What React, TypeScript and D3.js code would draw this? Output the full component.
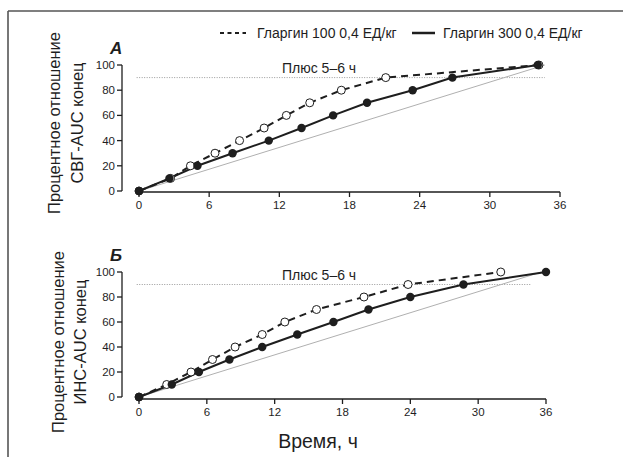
import React from 'react';
import * as d3 from 'd3';

// hours / percent values
const xTicks = [0, 6, 12, 18, 24, 30, 36];
const yTicks = [0, 20, 40, 60, 80, 100];
const plusLevel = 90;
const plusLabel = 'Плюс 5–6 ч';

const legendLabels = ['Гларгин 100 0,4 ЕД/кг', 'Гларгин 300 0,4 ЕД/кг'];

// Panel A: СВГ-AUC
const aG100Hours = [0, 2.7, 4.4, 6.5, 8.6, 10.7, 12.6, 14.6, 17.3, 21.1, 34.2];
const aG100Values = [0, 10, 20, 30, 40, 50, 60, 70, 80, 90, 100];
const aG300Hours = [0, 2.6, 5.0, 8.0, 11.1, 13.9, 16.6, 19.5, 23.4, 26.8, 34.1];
const aG300Values = [0, 10, 20, 30, 40, 50, 60, 70, 80, 90, 100];
const aRefEnd = [34.7, 100];

// Panel B: ИНС-AUC
const bG100Hours = [0, 2.45, 4.6, 6.5, 8.5, 10.9, 12.9, 15.7, 19.9, 23.8, 32.0];
const bG100Values = [0, 10, 20, 30, 40, 50, 60, 70, 80, 90, 100];
const bG300Hours = [0, 2.9, 5.3, 8.0, 10.9, 14.0, 17.2, 20.3, 24.0, 28.7, 36.0];
const bG300Values = [0, 10, 20, 30, 40, 50, 60, 70, 80, 90, 100];
const bRefEnd = [35.6, 100];

const FONT = '"Liberation Sans", Arial, sans-serif';
const INK = '#1e1e1e';

type Pt = [number, number];
const zip = (h: number[], v: number[]): Pt[] => h.map((x, i) => [x, v[i]]);

const panels = [
  {
    letter: 'А',
    yLabel: ['Процентное отношение', 'СВГ-AUC конец'],
    g100: zip(aG100Hours, aG100Values),
    g300: zip(aG300Hours, aG300Values),
    refEnd: aRefEnd,
    x0: 139, x1: 560, yTop: 65, yBot: 191, axisY: 192,
    labelCy: 123, labelX: [60, 83],
  },
  {
    letter: 'Б',
    yLabel: ['Процентное отношение', 'ИНС-AUC конец'],
    g100: zip(bG100Hours, bG100Values),
    g300: zip(bG300Hours, bG300Values),
    refEnd: bRefEnd,
    x0: 139, x1: 546, yTop: 272, yBot: 397, axisY: 399,
    labelCy: 342, labelX: [64, 86],
  },
];

const Panel = ({ p }: { p: typeof panels[number] }) => {
  const x = d3.scaleLinear().domain([0, 36]).range([p.x0, p.x1]);
  const y = d3.scaleLinear().domain([0, 100]).range([p.yBot, p.yTop]);
  const line = d3.line<Pt>().x(d => x(d[0])).y(d => y(d[1]));
  const yAxisX = 122;

  return (
    <g>
      {/* panel letter */}
      <text x={110} y={p.yTop - 11} fontFamily={FONT} fontSize={17} fontWeight="bold" fontStyle="italic" fill={INK}>
        {p.letter}
      </text>

      {/* y label, two rotated lines */}
      {p.yLabel.map((t, i) => (
        <text
          key={i}
          transform={`translate(${p.labelX[i]},${p.labelCy}) rotate(-90)`}
          textAnchor="middle"
          fontFamily={FONT}
          fontSize={16.5}
          fill={INK}
        >
          {t}
        </text>
      ))}

      {/* y axis */}
      <line x1={yAxisX} x2={yAxisX} y1={y(100)} y2={y(0)} stroke={INK} strokeWidth={1.3} />
      {yTicks.map(t => (
        <g key={t}>
          <line x1={yAxisX - 5} x2={yAxisX} y1={y(t)} y2={y(t)} stroke={INK} strokeWidth={1.3} />
          <text x={yAxisX - 7} y={y(t) + 4} textAnchor="end" fontFamily={FONT} fontSize={11.5} fill={INK}>
            {t}
          </text>
        </g>
      ))}

      {/* x axis */}
      <line x1={x(0)} x2={x(36)} y1={p.axisY} y2={p.axisY} stroke={INK} strokeWidth={1.3} />
      {xTicks.map(t => (
        <g key={t}>
          <line x1={x(t)} x2={x(t)} y1={p.axisY} y2={p.axisY + 5} stroke={INK} strokeWidth={1.3} />
          <text x={x(t)} y={p.axisY + 17} textAnchor="middle" fontFamily={FONT} fontSize={11.5} fill={INK}>
            {t}
          </text>
        </g>
      ))}

      {/* 90% dotted level */}
      <line x1={x(-0.2)} x2={x(34.7)} y1={y(plusLevel)} y2={y(plusLevel)} stroke="#999" strokeWidth={1} strokeDasharray="1,1.5" />
      <text x={p.x0 + 143} y={y(plusLevel) - 5} fontFamily={FONT} fontSize={14} fill={INK}>
        {plusLabel}
      </text>

      {/* diagonal reference */}
      <line x1={x(0)} y1={y(0)} x2={x(p.refEnd[0])} y2={y(p.refEnd[1])} stroke="#b0b0b0" strokeWidth={1} />

      {/* series */}
      <path d={line(p.g100) || ''} fill="none" stroke={INK} strokeWidth={2} strokeDasharray="7,5" />
      <path d={line(p.g300) || ''} fill="none" stroke={INK} strokeWidth={2} />
      {p.g100.map((d, i) => (
        <circle key={'o' + i} cx={x(d[0])} cy={y(d[1])} r={4} fill="#fff" stroke={INK} strokeWidth={1} />
      ))}
      {p.g300.map((d, i) => (
        <circle key={'f' + i} cx={x(d[0])} cy={y(d[1])} r={4.2} fill={INK} />
      ))}
    </g>
  );
};

export default function App() {
  return (
    <svg width={623} height={457} style={{ position: 'absolute', left: 0, top: 0, background: '#fff' }}>
      <rect x={0} y={0} width={623} height={457} fill="#fff" />
      {/* frame: top and left */}
      <line x1={8} x2={623} y1={11} y2={11} stroke="#555" strokeWidth={1.6} />
      <line x1={8} x2={8} y1={11} y2={457} stroke="#555" strokeWidth={1.6} />

      {/* legend */}
      <line x1={220} x2={246} y1={33} y2={33} stroke={INK} strokeWidth={2} strokeDasharray="4,3.5" />
      <text x={257} y={38} fontFamily={FONT} fontSize={14} fill={INK}>{legendLabels[0]}</text>
      <line x1={412} x2={435} y1={33} y2={33} stroke={INK} strokeWidth={2.5} />
      <text x={443} y={38} fontFamily={FONT} fontSize={14} fill={INK}>{legendLabels[1]}</text>

      {panels.map(p => <Panel key={p.letter} p={p} />)}

      <text x={318} y={448} textAnchor="middle" fontFamily={FONT} fontSize={19.5} fill={INK}>
        Время, ч
      </text>
    </svg>
  );
}
